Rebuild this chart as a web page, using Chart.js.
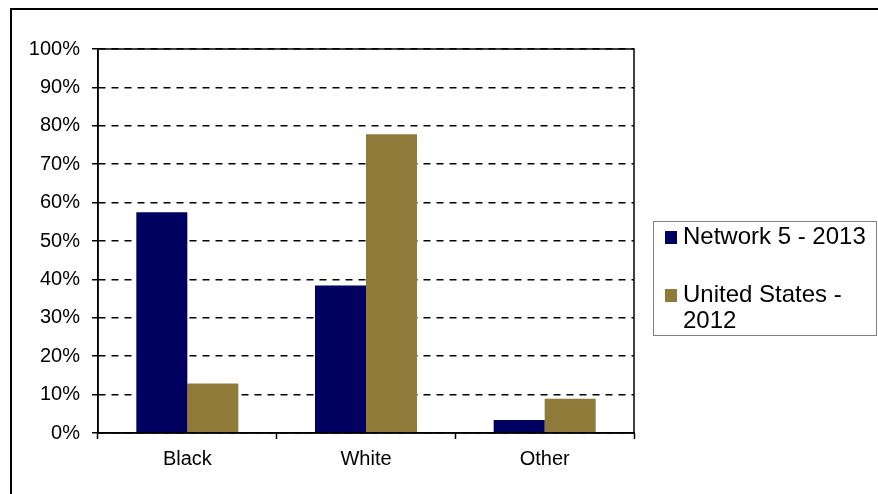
<!DOCTYPE html>
<html>
<head>
<meta charset="utf-8">
<script src="https://cdn.jsdelivr.net/npm/chart.js@4/dist/chart.umd.min.js"></script>
<style>
  html, body { margin: 0; padding: 0; background: #fff; }
  #wrap { position: relative; width: 878px; height: 494px; }
</style>
</head>
<body>
<div id="wrap"><canvas id="chart" width="878" height="494"></canvas></div>
<script>
const categories = ['Black', 'White', 'Other'];
const network5 = [57.5, 38.4, 3.4];
const unitedStates = [12.9, 77.8, 8.9];
const yTicks = [0, 10, 20, 30, 40, 50, 60, 70, 80, 90, 100];

const seriesNames = ['Network 5 - 2013', 'United States - 2012'];
const seriesColors = ['#000060', '#8f7a3a'];

const FONT = '"Liberation Sans", Arial, sans-serif';

// outer frame, box around the plot area and the boxed legend on the right
const framePlugin = {
  id: 'frame',
  beforeDraw(chart) {
    const ctx = chart.ctx;
    ctx.save();
    ctx.fillStyle = '#fff';
    ctx.fillRect(0, 0, chart.width, chart.height);
    ctx.strokeStyle = '#000';
    ctx.lineWidth = 2;
    ctx.beginPath();
    ctx.moveTo(11, chart.height);
    ctx.lineTo(11, 9);
    ctx.lineTo(chart.width, 9);
    ctx.stroke();
    ctx.restore();
  },
  afterDraw(chart) {
    const ctx = chart.ctx;
    const a = chart.chartArea;
    ctx.save();
    ctx.strokeStyle = '#000';
    ctx.lineWidth = 1.5;
    ctx.strokeRect(a.left, a.top, a.right - a.left, a.bottom - a.top);

    // legend
    ctx.strokeStyle = '#808080';
    ctx.lineWidth = 1;
    ctx.strokeRect(653.5, 221.5, 223, 114);
    ctx.font = '24px ' + FONT;
    ctx.textBaseline = 'alphabetic';
    ctx.fillStyle = '#000';
    let baseline = 244;
    chart.data.datasets.forEach((ds, i) => {
      ctx.fillStyle = ds.backgroundColor;
      ctx.fillRect(665, baseline - 13, 12, 13);
      ctx.fillStyle = '#000';
      const lines = wrapText(ctx, ds.label, 186);
      lines.forEach((ln, j) => {
        ctx.fillText(ln, 683, baseline + j * 26);
      });
      baseline += 58;
    });
    ctx.restore();
  }
};

function wrapText(ctx, text, maxWidth) {
  const words = text.split(' ');
  const lines = [];
  let cur = '';
  words.forEach(w => {
    const test = cur ? cur + ' ' + w : w;
    if (ctx.measureText(test).width > maxWidth && cur) {
      lines.push(cur);
      cur = w;
    } else {
      cur = test;
    }
  });
  if (cur) lines.push(cur);
  return lines;
}

new Chart(document.getElementById('chart'), {
  type: 'bar',
  data: {
    labels: categories,
    datasets: [
      { label: seriesNames[0], data: network5, backgroundColor: seriesColors[0] },
      { label: seriesNames[1], data: unitedStates, backgroundColor: seriesColors[1] }
    ]
  },
  options: {
    responsive: false,
    animation: false,
    datasets: { bar: { categoryPercentage: 0.571, barPercentage: 1 } },
    layout: { padding: { left: 0, top: 49, right: 244, bottom: 0 } },
    plugins: {
      legend: { display: false },
      tooltip: { enabled: false },
      title: { display: false }
    },
    scales: {
      x: {
        grid: { display: true, drawOnChartArea: false, offset: true, color: '#000',
          tickLength: 6, tickWidth: 1.5 },
        border: { display: true, color: '#000', width: 1.5 },
        ticks: { color: '#000', padding: 8, font: { family: FONT, size: 20 } },
        afterFit(scale) { scale.height = 61; }
      },
      y: {
        min: 0,
        max: 100,
        afterBuildTicks(scale) { scale.ticks = yTicks.map(v => ({ value: v })); },
        grid: { color: '#000', lineWidth: 1.5, tickLength: 6, tickWidth: 1.5 },
        border: { display: true, color: '#000', width: 1.5, dash: [7, 6] },
        ticks: {
          color: '#000', padding: 12, font: { family: FONT, size: 20 },
          callback: v => v + '%'
        },
        afterFit(scale) { scale.width = 98; }
      }
    }
  },
  plugins: [framePlugin]
});
</script>
</body>
</html>
